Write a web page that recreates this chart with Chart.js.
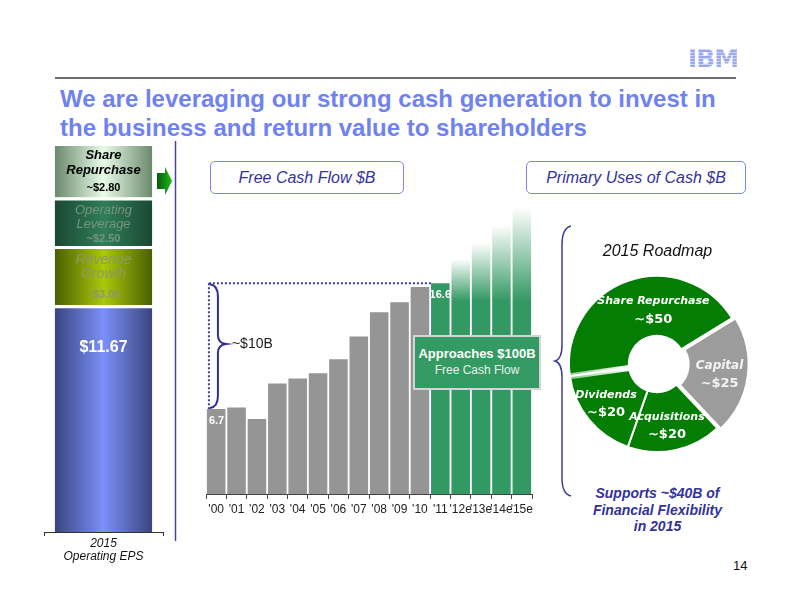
<!DOCTYPE html>
<html>
<head>
<meta charset="utf-8">
<script src="https://cdn.jsdelivr.net/npm/chart.js@4.4.1/dist/chart.umd.min.js"></script>
<style>
  body { margin: 0; background: #fff; }
  #slide { position: relative; width: 792px; height: 612px; overflow: hidden; font-family: "Liberation Sans", Arial, sans-serif; }
  .abs { position: absolute; }
  #title { left: 60px; top: 84px; font-size: 24px; font-weight: bold; line-height: 29px; color: #6f82f0; white-space: nowrap; }
  #logo { left: 688px; top: 44px; font: 900 25px "DejaVu Sans", sans-serif; letter-spacing: -1px; color: transparent;
          background: repeating-linear-gradient(#9aa8f2 0 2px, #cdd3f8 2px 3px); -webkit-background-clip: text; background-clip: text; }
  .box { border: 1.5px solid #7d86f0; border-radius: 5px; color: #333399; font-style: italic; font-size: 16px; text-align: center; line-height: 31px; box-sizing: border-box; }
  #callout { left: 413px; top: 335px; width: 128px; height: 55px; background: #329a62; border: 2px solid #d4d4d4; box-sizing: border-box; color: #fff; text-align: center; }
  #callout b { display: block; font-size: 13px; margin-top: 9px; }
  #callout span { display: block; font-size: 12px; color: #e6f4ea; margin-top: 2px; }
  #roadmap { left: 570px; top: 242px; width: 175px; text-align: center; font-style: italic; font-size: 16px; color: #111; }
  #supports { left: 580px; top: 485px; width: 155px; text-align: center; font-weight: bold; font-style: italic; font-size: 14px; line-height: 16.5px; color: #333399; }
  #page { left: 733px; top: 558px; font-size: 13px; color: #111; }
</style>
</head>
<body>
<div id="slide">
  <div id="logo" class="abs">IBM</div>
  <svg class="abs" style="left:0;top:0" width="792" height="612">
    <line x1="55" y1="78" x2="736" y2="78" stroke="#6e6e6e" stroke-width="2"/>
    <line x1="175.5" y1="141" x2="175.5" y2="541" stroke="#4343a3" stroke-width="1.5"/>
    <defs>
      <linearGradient id="arrowG" x1="0" y1="0" x2="1" y2="0">
        <stop offset="0" stop-color="#0a5a0a"/><stop offset="1" stop-color="#19c019"/>
      </linearGradient>
    </defs>
    <polygon points="157,173 165,173 165,167 172,181 165,195 165,189 157,189" fill="url(#arrowG)"/>
    <path d="M571 226 Q562 228 562 245 L562 345 Q562 359 555 361 Q562 363 562 377 L562 478 Q562 494 571 496" fill="none" stroke="#3c3ca0" stroke-width="1.5"/>
  </svg>
  <div id="title" class="abs">We are leveraging our strong cash generation to invest in<br>the business and return value to shareholders</div>
  <div class="abs box" style="left:210px;top:161px;width:194px;height:33px;">Free Cash Flow $B</div>
  <div class="abs box" style="left:526px;top:161px;width:220px;height:33px;">Primary Uses of Cash $B</div>

  <canvas id="eps" class="abs" style="left:30px;top:130px" width="150" height="445"></canvas>
  <canvas id="fcf" class="abs" style="left:196px;top:180px" width="350" height="350"></canvas>
  <canvas id="uses" class="abs" style="left:547px;top:254px" width="220" height="220"></canvas>

  <div id="callout" class="abs"><b>Approaches $100B</b><span>Free Cash Flow</span></div>
  <div id="roadmap" class="abs">2015 Roadmap</div>
  <div id="supports" class="abs">Supports ~$40B of<br>Financial Flexibility<br>in 2015</div>
  <div id="page" class="abs">14</div>
</div>

<script>
// 2015 operating EPS build-up
const epsCategory = [['2015', 'Operating EPS']];
const epsParts = ['$11.67', 'Revenue Growth', 'Operating Leverage', 'Share Repurchase'];
const epsValues = [11.67, 3.05, 2.50, 2.80];

// free cash flow, $B
const fcfYears = ["'00", "'01", "'02", "'03", "'04", "'05", "'06", "'07", "'08", "'09", "'10", "'11", "'12e", "'13e", "'14e", "'15e"];
const fcfValues = [6.7, 6.8, 5.9, 8.7, 9.1, 9.5, 10.6, 12.4, 14.3, 15.1, 16.3, 16.6, 18.5, 19.8, 21.2, 22.6];
const fcfShown = [0, 11];

// 2015 roadmap uses of cash, $B
const useNames = ['Share Repurchase', 'Capital', 'Acquisitions', 'Dividends'];
const useValues = [50, 25, 20, 20];

const FONT = '"Liberation Sans", Arial, sans-serif';

// ---- left: EPS stacked bar ----
const epsShades = [
  ['#39447f', '#7b90f8'],
  ['#4a5e00', '#abc80a'],
  ['#1a4832', '#2f7e58'],
  ['#6a896b', '#e8fbe8']
];
// label rows placed as a fraction of each segment's height
const epsText = [
  { lines: [], value: { f: 0.19, font: 'bold 16px ' + FONT, color: '#fff' } },
  { lines: [{ t: 'Revenue', f: 0.19 }, { t: 'Growth', f: 0.45 }], font: 'italic 14px ' + FONT, color: '#8c9868', value: { f: 0.81, font: 'bold 11px ' + FONT, color: '#8c9868' } },
  { lines: [{ t: 'Operating', f: 0.22 }, { t: 'Leverage', f: 0.53 }], font: 'italic 13px ' + FONT, color: '#7a9183', value: { f: 0.84, font: 'bold 11px ' + FONT, color: '#7a9183' } },
  { lines: [{ t: 'Share', f: 0.19 }, { t: 'Repurchase', f: 0.48 }], font: 'bold italic 13px ' + FONT, color: '#000', value: { f: 0.81, font: 'bold 11px ' + FONT, color: '#000' } }
];

function epsFill(i) {
  return (ctx) => {
    const chart = ctx.chart;
    if (!chart.chartArea) return epsShades[i][1];
    const cx = chart.scales.x.getPixelForValue(0);
    const g = chart.ctx.createLinearGradient(cx - 49, 0, cx + 49, 0);
    g.addColorStop(0, epsShades[i][0]);
    g.addColorStop(0.5, epsShades[i][1]);
    g.addColorStop(1, epsShades[i][0]);
    return g;
  };
}

const epsLabels = {
  id: 'epsLabels',
  afterDatasetsDraw(chart) {
    const ctx = chart.ctx;
    ctx.save();
    ctx.textAlign = 'center';
    ctx.textBaseline = 'middle';
    chart.data.datasets.forEach((ds, i) => {
      const bar = chart.getDatasetMeta(i).data[0];
      const top = bar.y + 3;
      const h = bar.base - top;
      const info = epsText[i];
      ctx.font = info.font || ctx.font;
      ctx.fillStyle = info.color || '#000';
      info.lines.forEach(l => ctx.fillText(l.t, bar.x, top + l.f * h));
      ctx.font = info.value.font;
      ctx.fillStyle = info.value.color;
      const vh = i === 0 ? 206 : h;
      ctx.fillText((i === 0 ? '$' : '~$') + ds.data[0].toFixed(2), bar.x, top + info.value.f * vh);
    });
    ctx.restore();
  }
};

new Chart(document.getElementById('eps'), {
  type: 'bar',
  data: {
    labels: epsCategory,
    datasets: epsValues.map((v, i) => ({
      label: epsParts[i],
      data: [v],
      backgroundColor: epsFill(i),
      borderColor: '#fff',
      borderWidth: { top: 3, bottom: 0, left: 0, right: 0 },
      borderSkipped: false,
      barPercentage: 0.82,
      categoryPercentage: 1
    }))
  },
  options: {
    responsive: false,
    animation: false,
    layout: { padding: { left: 14, right: 17, top: 13, bottom: 0 } },
    plugins: { legend: { display: false }, tooltip: { enabled: false } },
    scales: {
      x: {
        stacked: true,
        grid: { drawOnChartArea: false, color: '#333', tickLength: 4 },
        border: { color: '#333' },
        ticks: { color: '#111', padding: 1, font: { family: FONT, size: 12, style: 'italic', lineHeight: 1.1 } },
        afterFit: (s) => { s.height = 43; }
      },
      y: { stacked: true, display: false, min: 0, max: 20.02 }
    }
  },
  plugins: [epsLabels]
});

// ---- middle: free cash flow bars ----
const GRAY = '#959595', GREEN = 'rgb(51,153,99)';

function fcfFill(ctx) {
  const i = ctx.dataIndex;
  if (i <= 10) return GRAY;
  if (i === 11) return GREEN;
  const chart = ctx.chart;
  if (!chart.chartArea) return GREEN;
  const y = chart.scales.y;
  const top = y.getPixelForValue(fcfValues[i]);
  const solid = y.getPixelForValue(15.2);
  const g = chart.ctx.createLinearGradient(0, top, 0, solid);
  g.addColorStop(0, 'rgba(51,153,99,0)');
  g.addColorStop(1, 'rgba(51,153,99,1)');
  return g;
}

const fcfMarks = {
  id: 'fcfMarks',
  afterDatasetsDraw(chart) {
    const { ctx, scales: { y } } = chart;
    const bars = chart.getDatasetMeta(0).data;
    const first = bars[0], last = bars[11];
    const left = first.x - first.width / 2;
    const yHi = y.getPixelForValue(fcfValues[11]);
    const yLo = y.getPixelForValue(fcfValues[0]);
    ctx.save();
    // dotted guide
    ctx.strokeStyle = '#3a3aa8';
    ctx.lineWidth = 2;
    ctx.setLineDash([2, 2]);
    ctx.beginPath();
    ctx.moveTo(left + 2, yHi);
    ctx.lineTo(last.x - last.width / 2, yHi);
    ctx.moveTo(left + 2, yHi);
    ctx.lineTo(left + 2, yLo);
    ctx.stroke();
    // brace
    ctx.setLineDash([]);
    ctx.strokeStyle = '#2e2e9a';
    const bx = left + 3, mid = (yHi + yLo) / 2 - 2;
    ctx.beginPath();
    ctx.moveTo(bx, yHi + 1);
    ctx.quadraticCurveTo(bx + 8, yHi + 2, bx + 8, yHi + 13);
    ctx.lineTo(bx + 8, mid - 9);
    ctx.quadraticCurveTo(bx + 8, mid - 1, bx + 16, mid);
    ctx.quadraticCurveTo(bx + 8, mid + 1, bx + 8, mid + 9);
    ctx.lineTo(bx + 8, yLo - 13);
    ctx.quadraticCurveTo(bx + 8, yLo - 2, bx, yLo - 1);
    ctx.stroke();
    ctx.fillStyle = '#222';
    ctx.font = '14px ' + FONT;
    ctx.textBaseline = 'middle';
    ctx.fillText('~$10B', bx + 22, mid);
    // value labels
    ctx.fillStyle = '#fff';
    ctx.font = 'bold 11px ' + FONT;
    fcfShown.forEach(i => {
      const b = bars[i];
      ctx.textAlign = i === 0 ? 'left' : 'center';
      const tx = i === 0 ? b.x - b.width / 2 + 2 : b.x;
      ctx.fillText(fcfValues[i].toFixed(1), tx, b.y + 12);
    });
    ctx.restore();
  }
};

new Chart(document.getElementById('fcf'), {
  type: 'bar',
  data: {
    labels: fcfYears,
    datasets: [{
      label: 'Free Cash Flow $B',
      data: fcfValues,
      backgroundColor: fcfFill,
      borderWidth: 0,
      barPercentage: 0.91,
      categoryPercentage: 1
    }]
  },
  options: {
    responsive: false,
    animation: false,
    layout: { padding: { left: 10, right: 14, top: 0, bottom: 0 } },
    plugins: { legend: { display: false }, tooltip: { enabled: false } },
    scales: {
      x: {
        grid: { drawOnChartArea: false, color: '#444', tickLength: 5 },
        border: { color: '#444' },
        ticks: { color: '#222', padding: 3, maxRotation: 0, autoSkip: false, font: { family: FONT, size: 12 } },
        afterFit: (s) => { s.height = 36; }
      },
      y: { display: false, min: 0, max: 24.72 }
    }
  },
  plugins: [fcfMarks]
});

// ---- right: roadmap doughnut ----
const useNudge = [[16, 1], [-2, 2], [-2, 5], [-6, 3]];

const useLabels = {
  id: 'useLabels',
  afterDatasetsDraw(chart) {
    const ctx = chart.ctx;
    const arcs = chart.getDatasetMeta(0).data;
    ctx.save();
    // soft white seam between dividends and share repurchase
    const sr = arcs[0];
    const a = sr.startAngle;
    const g = ctx.createLinearGradient(sr.x + Math.cos(a) * sr.outerRadius, 0, sr.x + Math.cos(a) * sr.innerRadius, 0);
    g.addColorStop(0, 'rgba(255,255,255,0.55)');
    g.addColorStop(1, 'rgba(255,255,255,1)');
    ctx.strokeStyle = g;
    ctx.lineWidth = 6;
    ctx.beginPath();
    ctx.moveTo(sr.x + Math.cos(a) * sr.innerRadius, sr.y + Math.sin(a) * sr.innerRadius);
    ctx.lineTo(sr.x + Math.cos(a) * sr.outerRadius, sr.y + Math.sin(a) * sr.outerRadius);
    ctx.stroke();

    ctx.textAlign = 'center';
    ctx.textBaseline = 'middle';
    arcs.forEach((arc, i) => {
      const p = arc.getCenterPoint();
      const x = p.x + useNudge[i][0], y = p.y + useNudge[i][1];
      ctx.font = 'bold italic ' + (i === 1 ? 12 : 11) + 'px "DejaVu Sans", sans-serif';
      ctx.fillStyle = i === 1 ? '#f4f4f4' : '#fff';
      ctx.fillText(useNames[i], x, y - 9);
      ctx.font = 'bold 13px "DejaVu Sans", sans-serif';
      ctx.fillText('~$' + useValues[i], x, y + 9);
    });
    ctx.restore();
  }
};

new Chart(document.getElementById('uses'), {
  type: 'doughnut',
  data: {
    labels: useNames,
    datasets: [{
      data: useValues,
      backgroundColor: ['#037d03', '#9c9c9c', '#037d03', '#037d03'],
      borderColor: '#fff',
      borderWidth: 2,
      offset: [0, 14, 0, 0]
    }]
  },
  options: {
    responsive: false,
    animation: false,
    rotation: -98,
    radius: 88,
    cutout: '32%',
    layout: { padding: 0 },
    plugins: { legend: { display: false }, tooltip: { enabled: false } }
  },
  plugins: [useLabels]
});
</script>
</body>
</html>
